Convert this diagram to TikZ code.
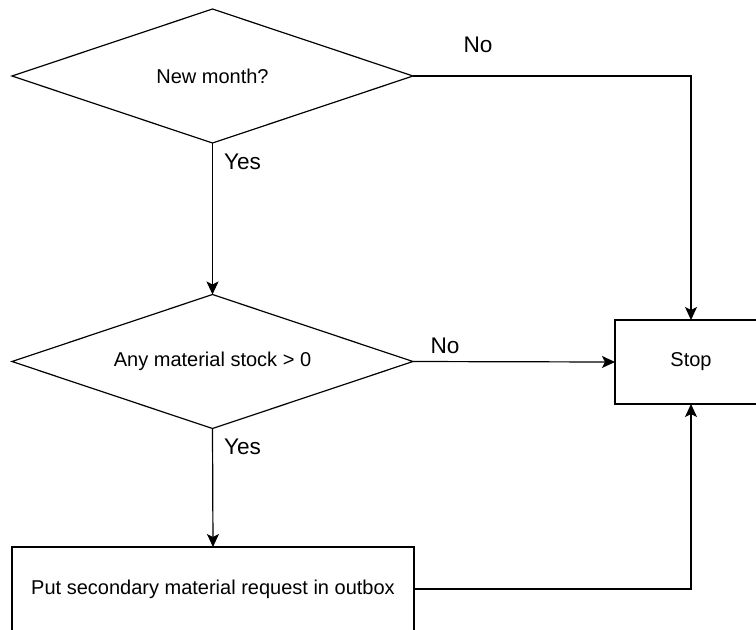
\documentclass[tikz,border=0pt]{standalone}
\usepackage{fontspec}
\setmainfont{Liberation Sans}
\usetikzlibrary{arrows.meta,shapes.geometric}

\tikzset{
	decision/.style={diamond,draw,line width=.6pt,inner sep=0pt,outer sep=0pt,shape aspect=3,minimum width=200.5pt,minimum height=67pt,font=\fontsize{10}{12}\selectfont},
	process/.style={rectangle,draw,line width=.6pt,inner sep=0pt,outer sep=0pt,font=\fontsize{10}{12}\selectfont},
	edgelabel/.style={inner sep=0pt,font=\fontsize{11.3}{13}\selectfont},
	flow/.style={line width=.6pt,-{Stealth[length=6.5pt,width=6pt,inset=1.5pt]}}
}

\begin{document}
\begin{tikzpicture}[x=.5pt,y=-.5pt]
			\useasboundingbox (0,0) rectangle (756,629);
			\clip (0,0) rectangle (756,629);
			\node[decision] (month) at (212.5,76) {New month?};
			\node[decision] (stock) at (212.5,361.5) {Any material stock > 0};
			\node[process,draw=none,minimum width=76pt,minimum height=42pt] (stop) at (691,362) {Stop};
			\draw[line width=.6pt] ([xshift=20pt]stop.north east) -- (stop.north west) -- (stop.south west) -- ([xshift=20pt]stop.south east);
			\node[process,minimum width=201pt,minimum height=42pt] (request) at (213,589) {Put secondary material request in outbox};
			
			\coordinate (corner) at (691,76);
			\draw[flow] (month.east) -- (corner) -- (stop.north);
			\node[edgelabel] (nomonth) at (478,45) {No};
			
			\draw[flow] (month.south) -- (stock.north);
			\node[edgelabel] (yesmonth) at (242.5,162) {Yes};
			
			\draw[flow] (stock.east) -- (stop.west);
			\node[edgelabel] (nostock) at (445,345.5) {No};
			
			\draw[flow] (stock.south) -- (request.north);
			\node[edgelabel] (yesstock) at (242.5,447) {Yes};
			
			\draw[flow] (request.east) -| (stop.south);
\end{tikzpicture}
\end{document}
